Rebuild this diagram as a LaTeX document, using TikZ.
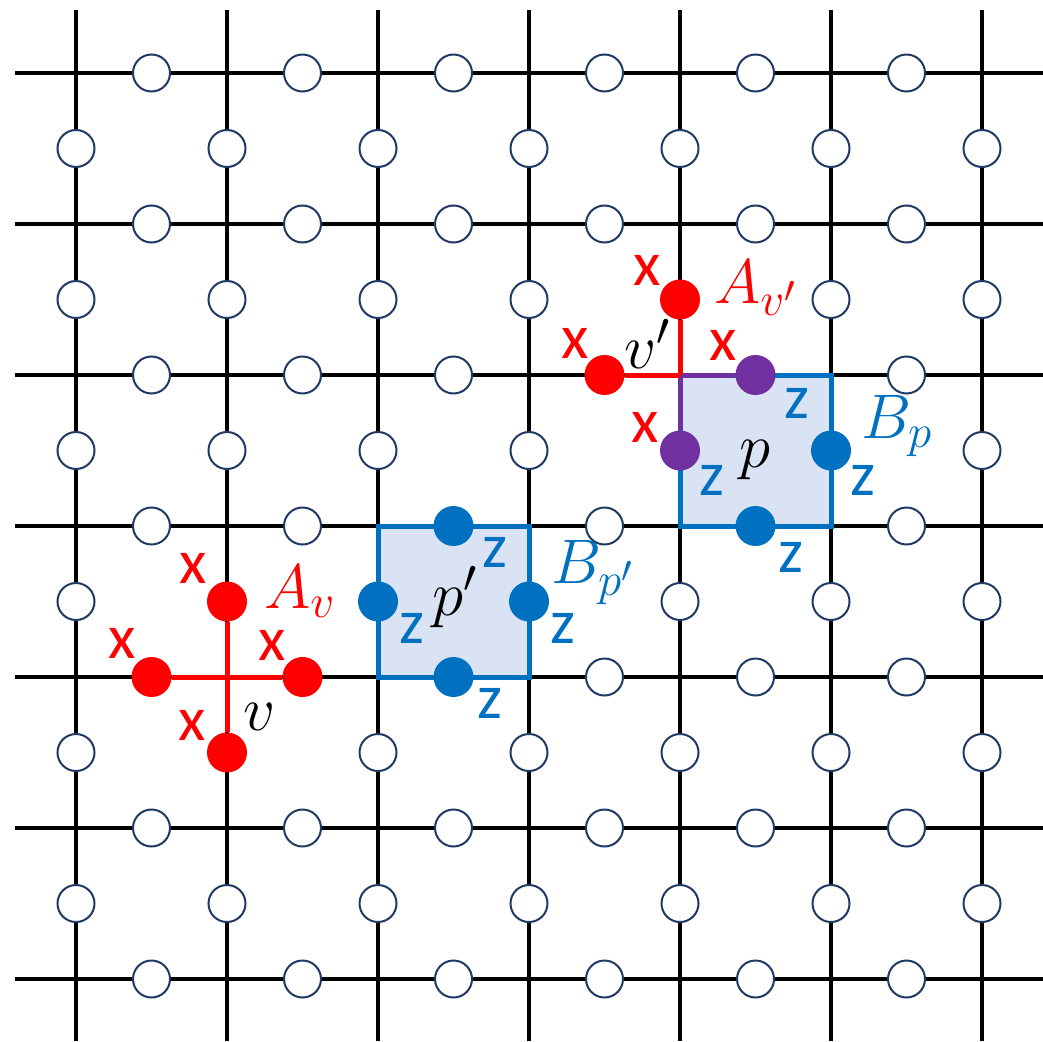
\RequirePackage{fix-cm}
\documentclass[tikz,border=0pt]{standalone}
\usepackage{fontspec}
\newfontfamily\labfont{Carlito}
\DeclareMathSizes{63}{63}{47}{38}
\definecolor{qred}{HTML}{FF0000}
\definecolor{qblue}{HTML}{0070C0}
\definecolor{qpurple}{HTML}{7030A0}
\definecolor{qfill}{HTML}{DAE3F3}
\definecolor{qnavy}{HTML}{1F3864}
\tikzset{
  gridline/.style={line width=4pt, black},
  qubit/.style={circle, draw=qnavy, line width=2pt, fill=white, minimum size=37pt, inner sep=0pt},
  dotred/.style={circle, fill=qred, minimum size=40pt, inner sep=0pt},
  dotblue/.style={circle, fill=qblue, minimum size=40pt, inner sep=0pt},
  dotpurple/.style={circle, fill=qpurple, minimum size=40pt, inner sep=0pt},
  redline/.style={line width=5pt, qred},
  purpleline/.style={line width=5pt, qpurple},
  plaq/.style={line width=5pt, draw=qblue, fill=qfill, line join=miter},
  xlab/.style={text=qred, font=\labfont\fontsize{63}{70}\selectfont, inner sep=0pt},
  zlab/.style={text=qblue, font=\labfont\fontsize{63}{70}\selectfont, inner sep=0pt},
  mlab/.style={font=\fontsize{63}{70}\selectfont, inner sep=0pt, anchor=base west},
}
\begin{document}
\begin{tikzpicture}[x=1pt,y=-1pt]
\useasboundingbox (0,0) rectangle (1043,1041);
% vertices and grid line ends
\foreach \i in {0,...,6}{
  \foreach \j in {0,...,6}{
    \coordinate (V-\i-\j) at ({76+151*\i},{73+151*\j});
  }
  \coordinate (HL-\i) at (15,{73+151*\i});
  \coordinate (HR-\i) at (1043,{73+151*\i});
  \coordinate (VT-\i) at ({76+151*\i},10);
  \coordinate (VB-\i) at ({76+151*\i},1041);
}
\foreach \i in {0,...,6}{
  \draw[gridline] (HL-\i) -- (HR-\i);
  \draw[gridline] (VT-\i) -- (VB-\i);
}
% plaquettes
\draw[plaq] (V-4-2) rectangle (V-5-3);
\draw[plaq] (V-2-3) rectangle (V-3-4);
% skip list for coloured qubits
\foreach \s in {h-0-4,h-1-4,h-3-2,h-4-2,h-4-3,h-2-3,h-2-4,v-1-3,v-1-4,v-4-1,v-4-2,v-5-2,v-2-3,v-3-3}{
  \expandafter\gdef\csname sk\s\endcsname{}
}
% white qubits
\foreach \i in {0,...,5}{
  \foreach \j in {0,...,6}{
    \ifcsname skh-\i-\j\endcsname\else
      \node[qubit] (h-\i-\j) at ({151.5+151*\i},{73+151*\j}) {};
    \fi
  }
}
\foreach \i in {0,...,6}{
  \foreach \j in {0,...,5}{
    \ifcsname skv-\i-\j\endcsname\else
      \node[qubit] (v-\i-\j) at ({76+151*\i},{148.5+151*\j}) {};
    \fi
  }
}
% coloured qubits
\node[dotred] (h-0-4) at (151.5,677) {};
\node[dotred] (h-1-4) at (302.5,677) {};
\node[dotred] (v-1-3) at (227,601.5) {};
\node[dotred] (v-1-4) at (227,752.5) {};
\node[dotred] (v-4-1) at (680,299.5) {};
\node[dotred] (h-3-2) at (604.5,375) {};
\node[dotpurple] (h-4-2) at (755.5,375) {};
\node[dotpurple] (v-4-2) at (680,450.5) {};
\node[dotblue] (h-4-3) at (755.5,526) {};
\node[dotblue] (v-5-2) at (831,450.5) {};
\node[dotblue] (h-2-3) at (453.5,526) {};
\node[dotblue] (h-2-4) at (453.5,677) {};
\node[dotblue] (v-2-3) at (378,601.5) {};
\node[dotblue] (v-3-3) at (529,601.5) {};
% star operator lines
\draw[redline] (V-1-4) -- (h-0-4);
\draw[redline] (V-1-4) -- (h-1-4);
\draw[redline] (V-1-4) -- (v-1-3);
\draw[redline] (V-1-4) -- (v-1-4);
\draw[purpleline] (V-4-2) -- (h-4-2);
\draw[purpleline] (V-4-2) -- (v-4-2);
\draw[redline] (V-4-2) -- (v-4-1);
\draw[redline] (V-4-2) -- (h-3-2);
% X labels
\node[xlab] (xa1) at (193,568) {x};
\node[xlab] (xa2) at (122,643) {x};
\node[xlab] (xa3) at (272,645) {x};
\node[xlab] (xa4) at (192,725) {x};
\node[xlab] (xb1) at (647,270) {x};
\node[xlab] (xb2) at (575,343) {x};
\node[xlab] (xb3) at (723,345) {x};
\node[xlab] (xb4) at (645,427) {x};
% Z labels
\node[zlab] (za1) at (797,403) {z};
\node[zlab] (za2) at (712,480) {z};
\node[zlab] (za3) at (863,480) {z};
\node[zlab] (za4) at (791,557) {z};
\node[zlab] (zb1) at (495,552) {z};
\node[zlab] (zb2) at (412,628) {z};
\node[zlab] (zb3) at (563,628) {z};
\node[zlab] (zb4) at (490,703) {z};
% math labels
\node[mlab, text=qred] (Av) at (264,608) {$A_v$};
\node[mlab, text=qred] (Avp) at (714,303) {$A_{v'}$};
\node[mlab] (lv) at (243,730) {$v$};
\node[mlab] (lvp) at (624,368) {$v'$};
\node[mlab] (lp) at (739,467) {$p$};
\node[mlab] (lpp) at (432,615) {$p'$};
\node[mlab, text=qblue] (Bpp) at (551,583) {$B_{p'}$};
\node[mlab, text=qblue] (Bp) at (861,438) {$B_p$};
\end{tikzpicture}
\end{document}
